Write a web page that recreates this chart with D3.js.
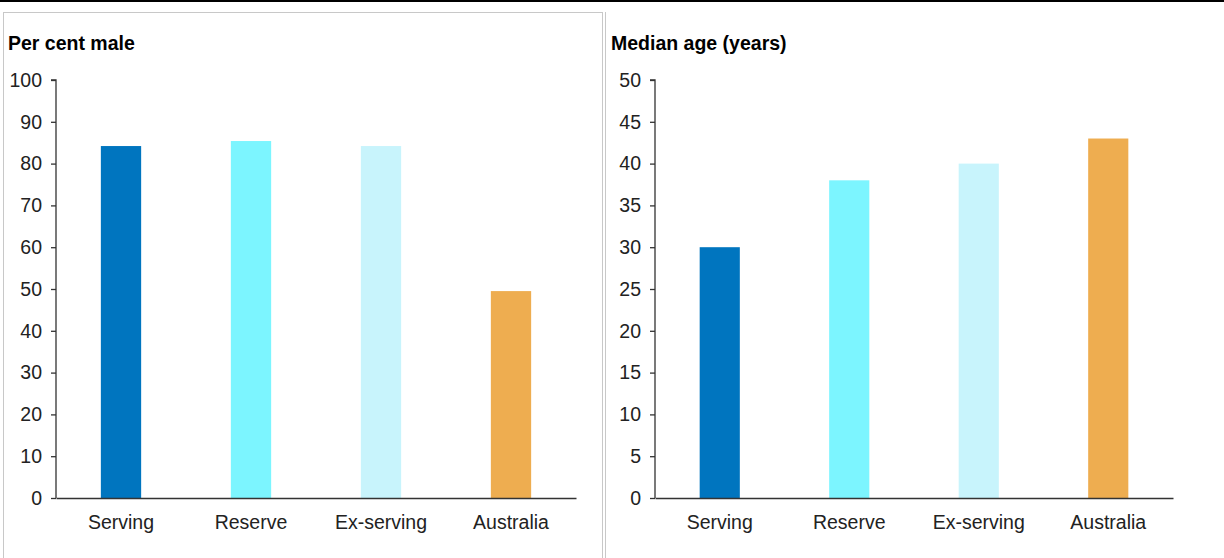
<!DOCTYPE html>
<html><head><meta charset="utf-8">
<script src="https://cdn.jsdelivr.net/npm/d3@7"></script>
<style>body{margin:0;background:#fff}svg{display:block}text{font-family:Arial,"Liberation Sans",sans-serif}</style>
</head><body><svg id="c" width="1224" height="558"></svg>
<script>
const categories = ["Serving","Reserve","Ex-serving","Australia"];
const colors = ["#0075BF","#7CF5FF","#C8F4FC","#EEAD50"];
const maleValues = [84.2,85.4,84.2,49.5];
const ageValues = [30,38,40,43];
const maleTicks = [0,10,20,30,40,50,60,70,80,90,100];
const ageTicks = [0,5,10,15,20,25,30,35,40,45,50];
const titles = ["Per cent male","Median age (years)"];

const svg = d3.select("#c");
svg.append("rect").attr("x",0).attr("y",0).attr("width",1224).attr("height",2).attr("fill","#000");
svg.append("rect").attr("x",3.5).attr("y",12.5).attr("width",599).attr("height",560).attr("fill","none").attr("stroke","#c8c8c8");
svg.append("line").attr("x1",605.5).attr("x2",605.5).attr("y1",12).attr("y2",558).attr("stroke","#c8c8c8");

function panel(cfg){
  const g = svg.append("g");
  const x = d3.scaleBand().domain(categories).range([cfg.x0,cfg.x1]).paddingInner(0.69).paddingOuter(0.345);
  const y = d3.scaleLinear().domain([0,cfg.max]).range([498,80]);
  g.append("text").attr("x",cfg.tx).attr("y",50).attr("font-size",19.5).attr("font-weight","bold").attr("fill","#000").text(cfg.title);
  g.selectAll("rect.bar").data(cfg.values).join("rect").attr("class","bar")
    .attr("x",(d,i)=>x(categories[i])).attr("width",x.bandwidth())
    .attr("y",d=>y(d)).attr("height",d=>y(0)-y(d)).attr("fill",(d,i)=>colors[i]);
  const ya = g.append("g").attr("transform",`translate(${cfg.x0},0)`)
    .call(d3.axisLeft(y).tickValues(cfg.ticks).tickSize(5).tickPadding(9));
  ya.select(".domain").attr("stroke","#333").attr("stroke-width",1.3).attr("d",`M-5,${y(cfg.max)}H0V${y(0)}`);
  ya.selectAll(".tick line").attr("stroke","#333").attr("stroke-width",1.3);
  ya.selectAll(".tick text").attr("font-size",19.5).attr("fill","#222").attr("font-family","Arial, Liberation Sans, sans-serif");
  const xa = g.append("g").attr("transform",`translate(0,${y(0)})`)
    .call(d3.axisBottom(x).tickSize(0).tickPadding(17));
  xa.select(".domain").attr("stroke","#333").attr("stroke-width",1.3);
  xa.selectAll(".tick text").attr("font-size",19.5).attr("fill","#222").attr("font-family","Arial, Liberation Sans, sans-serif");
}
panel({x0:56,x1:576,max:100,values:maleValues,ticks:maleTicks,title:titles[0],tx:8});
panel({x0:655,x1:1173,max:50,values:ageValues,ticks:ageTicks,title:titles[1],tx:611});
</script></body></html>
